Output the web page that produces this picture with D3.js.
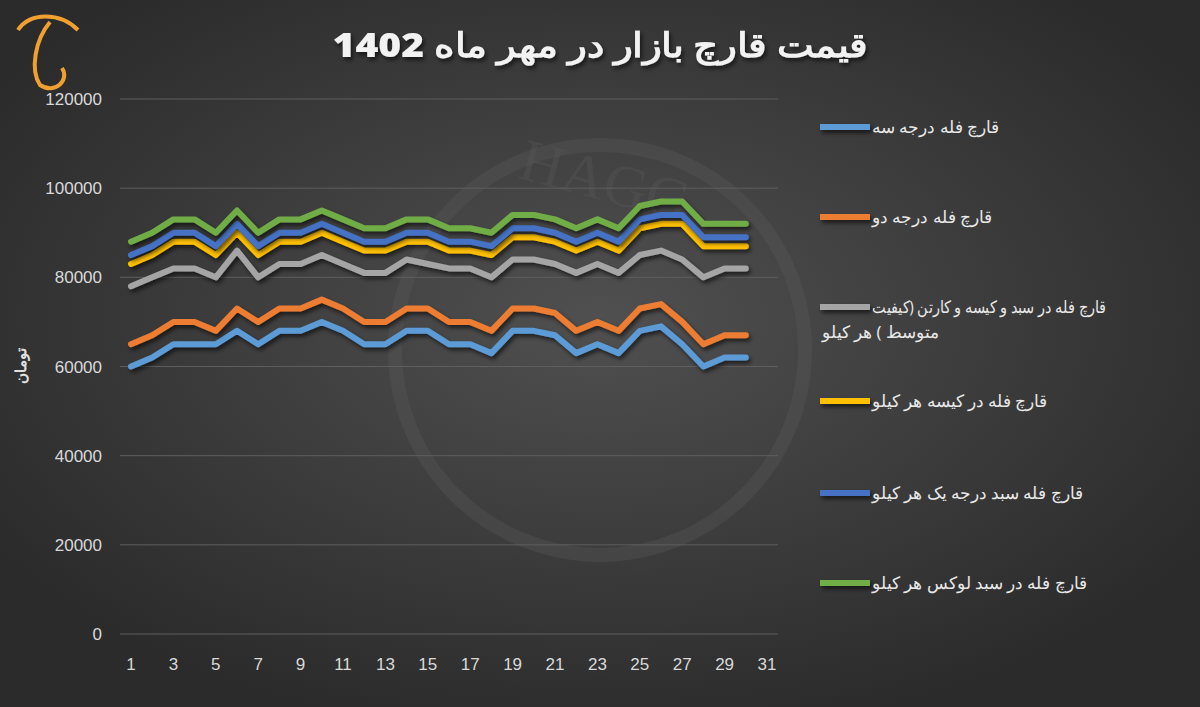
<!DOCTYPE html>
<html><head><meta charset="utf-8">
<script src="https://cdn.jsdelivr.net/npm/d3@7"></script>
<style>body{margin:0;background:#333}svg{display:block}</style></head>
<body><svg id="c" width="1200" height="707"></svg>
<script>
const days = d3.range(1,31);
const xTicks = [1,3,5,7,9,11,13,15,17,19,21,23,25,27,29,31];
const yTicks = [0,20000,40000,60000,80000,100000,120000];
const names = ["قارچ فله درجه سه","قارچ فله درجه دو","قارچ فله در سبد و کیسه و کارتن (کیفیت متوسط ) هر کیلو","قارچ فله در کیسه هر کیلو","قارچ فله سبد درجه یک هر کیلو","قارچ فله در سبد لوکس هر کیلو"];
const colors = ["#5b9bd5","#ed7d31","#a5a5a5","#ffc000","#4472c4","#70ad47"];
const s3 = [60,62,65,65,65,68,65,68,68,70,68,65,65,68,68,65,65,63,68,68,67,63,65,63,68,69,65,60,62,62];
const s2 = [65,67,70,70,68,73,70,73,73,75,73,70,70,73,73,70,70,68,73,73,72,68,70,68,73,74,70,65,67,67];
const sMid = [78,80,82,82,80,86,80,83,83,85,83,81,81,84,83,82,82,80,84,84,83,81,83,81,85,86,84,80,82,82];
const sBag = [83,85,88,88,85,90,85,88,88,90,88,86,86,88,88,86,86,85,89,89,88,86,88,86,91,92,92,87,87,87];
const s1 = [85,87,90,90,87,92,87,90,90,92,90,88,88,90,90,88,88,87,91,91,90,88,90,88,93,94,94,89,89,89];
const sLux = [88,90,93,93,90,95,90,93,93,95,93,91,91,93,93,91,91,90,94,94,93,91,93,91,96,97,97,92,92,92];
const series = [s3,s2,sMid,sBag,s1,sLux].map(a=>a.map(v=>v*1000));

const svg = d3.select("#c");
const defs = svg.append("defs");
const rg = defs.append("radialGradient").attr("id","bg").attr("cx","50%").attr("cy","45%").attr("r","60%");
rg.append("stop").attr("offset","0%").attr("stop-color","#505050");
rg.append("stop").attr("offset","100%").attr("stop-color","#2b2b2b");
const f = defs.append("filter").attr("id","sh").attr("filterUnits","userSpaceOnUse").attr("x",0).attr("y",0).attr("width",1200).attr("height",707);
f.append("feDropShadow").attr("dx",2).attr("dy",3).attr("stdDeviation",2).attr("flood-color","#000").attr("flood-opacity",0.6);
svg.append("rect").attr("width",1200).attr("height",707).attr("fill","url(#bg)");
svg.append("circle").attr("cx",600).attr("cy",350).attr("r",205).attr("fill","none").attr("stroke","#5a5a5a").attr("stroke-opacity",0.35).attr("stroke-width",14);
svg.append("text").attr("x",600).attr("y",200).attr("text-anchor","middle").attr("font-family","Liberation Serif").attr("font-size",60).attr("fill","#5a5a5a").attr("fill-opacity",0.35).attr("transform","rotate(15,600,200)").text("HAGG");
svg.append("path").attr("d","M18,30 C30,12 60,12 78,30 M50,22 C35,40 30,70 40,85 C55,95 70,80 62,68").attr("fill","none").attr("stroke","#f0a030").attr("stroke-width",4);

const x = d3.scaleLinear().domain([1,31]).range([131,767]);
const y = d3.scaleLinear().domain([0,120000]).range([634,99]);
const g = svg.append("g");
g.selectAll("line.grid").data(yTicks).join("line").attr("x1",120).attr("x2",778)
 .attr("y1",d=>y(d)).attr("y2",d=>y(d)).attr("stroke","#5e5e5e").attr("stroke-width",1);
g.selectAll("text.yt").data(yTicks).join("text").attr("x",102).attr("y",d=>y(d)+6).attr("text-anchor","end")
 .attr("font-family","Liberation Sans").attr("font-size",17).attr("fill","#d9d9d9").text(d=>d);
g.selectAll("text.xt").data(xTicks).join("text").attr("x",d=>x(d)).attr("y",670).attr("text-anchor","middle")
 .attr("font-family","Liberation Sans").attr("font-size",17).attr("fill","#d9d9d9").text(d=>d);
svg.append("text").attr("transform","translate(26,366) rotate(-90)").attr("text-anchor","middle")
 .attr("font-family","Noto Sans").attr("font-weight","bold").attr("font-size",15).attr("fill","#e0e0e0").text("تومان");
const line = d3.line().x((d,i)=>x(days[i])).y(d=>y(d));
series.forEach((s,i)=>{
 g.append("path").attr("d",line(s)).attr("fill","none").attr("stroke",colors[i]).attr("stroke-width",6)
  .attr("stroke-linejoin","round").attr("stroke-linecap","round").attr("filter","url(#sh)");
});
svg.append("text").attr("x",600).attr("y",57).attr("text-anchor","middle").attr("direction","rtl")
 .attr("font-family","Noto Sans").attr("font-weight","900").attr("font-size",34).attr("fill","#f2f2f2")
 .attr("textLength",535).attr("lengthAdjust","spacingAndGlyphs")
 .attr("filter","url(#sh)").text("قیمت قارچ بازار در مهر ماه 1402");
const ly = [127,217,307,401,493,583];
names.forEach((n,i)=>{
 const lg = svg.append("g");
 lg.append("line").attr("x1",820).attr("x2",870).attr("y1",ly[i]).attr("y2",ly[i]).attr("stroke",colors[i]).attr("stroke-width",6).attr("filter","url(#sh)");
 const lines = i===2 ? ["قارچ فله در سبد و کیسه و کارتن (کیفیت","متوسط ) هر کیلو"] : [n];
 lines.forEach((t,j)=>{
  const tx = lg.append("text").attr("x", j===0?872:822).attr("y",ly[i]+6+j*25).attr("text-anchor","end").attr("direction","rtl")
   .attr("font-family","Noto Sans").attr("font-size",16.5).attr("fill","#e8e8e8").text(t);
  if(i===2&&j===0) tx.attr("textLength",234).attr("lengthAdjust","spacingAndGlyphs");
 });
});
</script></body></html>
